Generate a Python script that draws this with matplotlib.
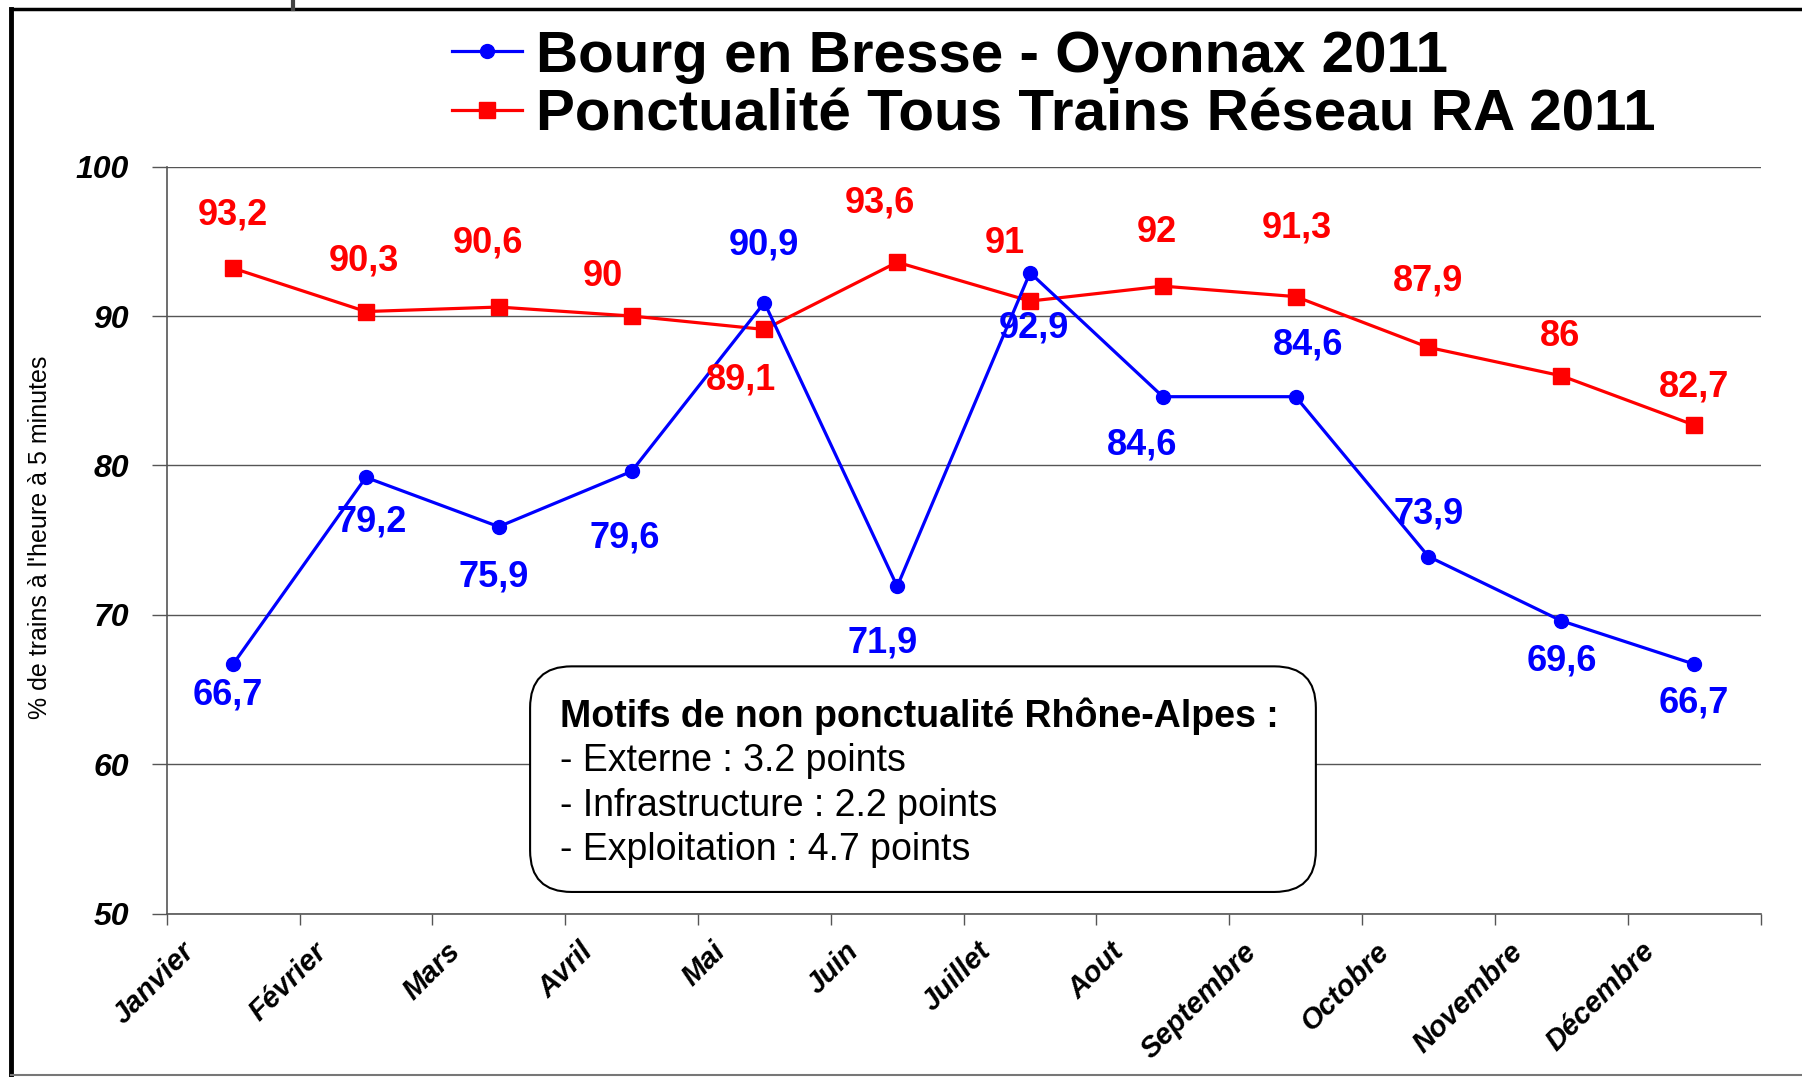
import matplotlib
matplotlib.use("Agg")
import matplotlib.pyplot as plt
from matplotlib.lines import Line2D
from matplotlib.patches import FancyBboxPatch
from matplotlib import font_manager

months = ["Janvier", "Février", "Mars", "Avril", "Mai", "Juin", "Juillet",
          "Aout", "Septembre", "Octobre", "Novembre", "Décembre"]
bourg = [66.7, 79.2, 75.9, 79.6, 90.9, 71.9, 92.9, 84.6, 84.6, 73.9, 69.6, 66.7]
reseau = [93.2, 90.3, 90.6, 90.0, 89.1, 93.6, 91.0, 92.0, 91.3, 87.9, 86.0, 82.7]
series_names = ["Bourg en Bresse - Oyonnax 2011",
                "Ponctualité Tous Trains Réseau RA 2011"]
y_ticks = [50, 60, 70, 80, 90, 100]
box_title = "Motifs de non ponctualité Rhône-Alpes :"
box_lines = ["- Externe : 3.2 points", "- Infrastructure : 2.2 points",
             "- Exploitation : 4.7 points"]

# label offsets (screen px of the shrunk reference) relative to each marker
BLUE_OFF = [(-5, 27), (5, 39), (-4, 44), (-6, 58), (0, -50), (-13, 49),
            (3, 48), (-18, 42), (11, -45), (0, -37), (0, 35), (0, 34)]
RED_OFF = [(0, -46), (-2, -44), (-9, -56), (-25, -34), (-20, 44), (-15, -52),
           (-22, -50), (-5, -47), (1, -60), (0, -58), (-1, -34), (0, -33)]

installed = {f.name for f in font_manager.fontManager.ttflist}
NARROW = "Liberation Sans Narrow" if "Liberation Sans Narrow" in installed else "Liberation Sans"
plt.rcParams["font.family"] = ["Liberation Sans", "DejaVu Sans"]

BLUE = "#0000ff"
RED = "#ff0000"
K = 0.827  # shrunk px -> points

fig = plt.figure(figsize=(18.02, 10.77), dpi=100)
ax = fig.add_axes([0.0925, 0.1517, 0.8845, 0.6936])

x = list(range(len(months)))
lb, = ax.plot(x, bourg, color=BLUE, lw=2.3, marker="o", ms=10, zorder=4)
lr, = ax.plot(x, reseau, color=RED, lw=2.3, marker="s", ms=11, zorder=3)


def label_points(values, offsets, color):
    for i, v in enumerate(values):
        dx, dy = offsets[i]
        ax.annotate(f"{v:g}".replace(".", ","), (i, v),
                    xytext=(dx * K, -dy * K), textcoords="offset points",
                    ha="center", va="center", color=color, fontsize=26,
                    fontweight="bold", zorder=5)


label_points(bourg, BLUE_OFF, BLUE)
label_points(reseau, RED_OFF, RED)

ax.set_xlim(-0.5, 11.5)
ax.set_ylim(50, 100)
ax.set_yticks(y_ticks)
ax.set_yticklabels([str(t) for t in y_ticks], fontsize=23,
                   fontweight="bold", fontstyle="italic")
ax.yaxis.grid(True, color="#555555", lw=1.0)
ax.set_axisbelow(True)

# tick marks between months, labels on minor ticks nudged to the right
bounds = [i - 0.5 for i in range(len(months) + 1)]
ax.set_xticks(bounds)
ax.set_xticklabels([])
ax.set_xticks([i - 0.4 for i in x], minor=True)
ax.set_xticklabels(months, minor=True, rotation=45, ha="right", va="top",
                   rotation_mode="anchor", fontsize=21, fontweight="bold",
                   fontstyle="italic", family=NARROW)

ax.tick_params(axis="x", which="major", direction="out", length=8, width=1,
               color="#555555")
ax.tick_params(axis="x", which="minor", length=0, pad=17)
ax.tick_params(axis="y", direction="out", length=11, width=1,
               color="#555555", pad=16)
for s in ("top", "right"):
    ax.spines[s].set_visible(False)
for s in ("left", "bottom"):
    ax.spines[s].set_color("#555555")
    ax.spines[s].set_linewidth(1.2)

ax.set_ylabel("% de trains à l'heure à 5 minutes", family=NARROW,
              fontsize=18)
ax.yaxis.set_label_coords(-0.072, 0.504)

# note box, rounded corners kept circular on screen
aspect = (0.8845 * 1802) / (0.6936 * 1077)
box = FancyBboxPatch((0.228, 0.029), 0.493, 0.302,
                     boxstyle="round,pad=0,rounding_size=0.026",
                     transform=ax.transAxes, fc="white", ec="black",
                     lw=1.5, zorder=6, mutation_aspect=aspect)
ax.add_patch(box)
ax.text(0.247, 0.264, box_title, transform=ax.transAxes, fontsize=27,
        fontweight="bold", family=NARROW, va="center", zorder=7)
for j, line in enumerate(box_lines):
    ax.text(0.247, 0.204 - j * 0.0595, line, transform=ax.transAxes,
            fontsize=27, family=NARROW, va="center", zorder=7)

fig.legend([lb, lr], series_names, loc="center left",
           bbox_to_anchor=(0.2506, 0.920), frameon=False,
           prop={"size": 42, "weight": "bold"}, handlelength=1.2,
           handletextpad=0.25, labelspacing=0.08, borderaxespad=0,
           borderpad=0)

# outer frame
fig.add_artist(Line2D([0.0062, 0.0062], [0.0, 0.992], color="black", lw=3.5))
fig.add_artist(Line2D([0.0062, 1.0], [0.992, 0.992], color="black", lw=2.5))
fig.add_artist(Line2D([0.0062, 1.0], [0.002, 0.002], color="#777777", lw=1.5))
fig.add_artist(Line2D([0.1625, 0.1625], [0.992, 1.0], color="#444444", lw=3))

fig.savefig("out.png", dpi=100)
